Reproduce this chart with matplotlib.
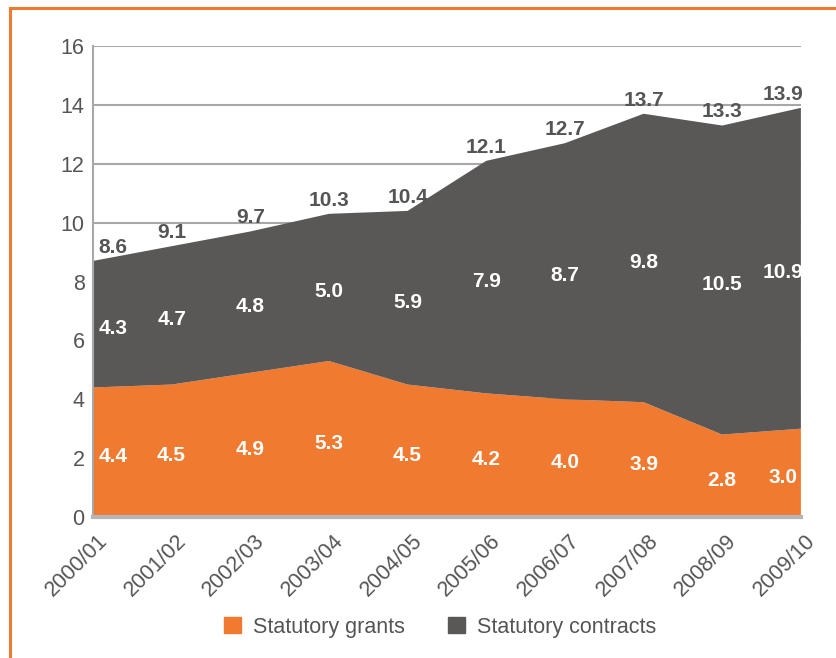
import numpy as np
import matplotlib
matplotlib.use('Agg')
import matplotlib.pyplot as plt
import matplotlib.transforms as mtransforms
from matplotlib.patches import Patch
from matplotlib.lines import Line2D

plt.rcParams['font.family'] = ['Liberation Sans', 'DejaVu Sans']

years = ['2000/01', '2001/02', '2002/03', '2003/04', '2004/05',
         '2005/06', '2006/07', '2007/08', '2008/09', '2009/10']
grants = [4.4, 4.5, 4.9, 5.3, 4.5, 4.2, 4.0, 3.9, 2.8, 3.0]
contracts = [4.3, 4.7, 4.8, 5.0, 5.9, 7.9, 8.7, 9.8, 10.5, 10.9]
totals = [8.6, 9.1, 9.7, 10.3, 10.4, 12.1, 12.7, 13.7, 13.3, 13.9]

orange = '#F17A31'
dark = '#5A5856'
txt = '#555555'
grid_c = '#A8A8A8'

fig = plt.figure(figsize=(8.36, 6.58), dpi=100)
ax = fig.add_axes([0.1112, 0.2143, 0.8468, 0.7157])

x = np.arange(len(years))
g = np.array(grants)
c = np.array(contracts)
ax.stackplot(x, g, c, colors=[orange, dark], linewidth=0, zorder=2)

ax.set_xlim(0, len(years) - 1)
ax.set_ylim(0, 16)
ax.set_yticks(range(0, 17, 2))
ax.yaxis.grid(True, color=grid_c, lw=1.5, zorder=1)
ax.set_axisbelow(True)
ax.set_xticks(x)
ax.set_xticklabels(years, rotation=45, ha='right', rotation_mode='anchor')
ax.tick_params(axis='both', length=0, labelsize=15.5, colors=txt, pad=6)
ax.tick_params(axis='x', pad=8)

# nudge rotated year labels slightly right/down
nudge = mtransforms.ScaledTranslation(4 / 100, -2 / 100, fig.dpi_scale_trans)
for lab in ax.get_xticklabels():
    lab.set_transform(lab.get_transform() + nudge)

for s in ['top', 'right']:
    ax.spines[s].set_visible(False)
ax.spines['left'].set_color(grid_c)
ax.spines['left'].set_linewidth(1.5)
ax.spines['bottom'].set_color('#B5B5B5')
ax.spines['bottom'].set_linewidth(3)
ax.spines['left'].set_zorder(3)
ax.spines['bottom'].set_zorder(3)

# label x shifts so the end labels sit inside the plot
shift = np.zeros(len(years))
shift[0] = 0.25
shift[-1] = -0.23

for i in range(len(years)):
    xi = x[i] + shift[i]
    ax.text(xi, g[i] / 2 - 0.15, f'{grants[i]:.1f}', color='white',
            fontsize=15, fontweight='bold', ha='center', va='center', zorder=4)
    ax.text(xi, g[i] + c[i] / 2 - 0.15, f'{contracts[i]:.1f}', color='white',
            fontsize=15, fontweight='bold', ha='center', va='center', zorder=4)
    ax.annotate(f'{totals[i]:.1f}', (xi, g[i] + c[i]), xytext=(0, 3),
                textcoords='offset points', color=txt, fontsize=15,
                fontweight='bold', ha='center', va='bottom', zorder=4)

handles = [Patch(color=orange, label='Statutory grants'),
           Patch(color=dark, label='Statutory contracts')]
leg = fig.legend(handles=handles, loc='center', bbox_to_anchor=(0.527, 0.047),
                 ncol=2, frameon=False, fontsize=15.5, handlelength=0.75,
                 handleheight=0.75, handletextpad=0.6, columnspacing=2.0)
for t in leg.get_texts():
    t.set_color(txt)

# orange frame on the top and left edges
fig.add_artist(Line2D([0.0119, 0.0119], [0.0, 0.9878], color=orange, lw=2.2,
                      transform=fig.transFigure))
fig.add_artist(Line2D([0.0119, 1.0], [0.9878, 0.9878], color=orange, lw=2.2,
                      transform=fig.transFigure))

fig.savefig('out.png', dpi=100)
